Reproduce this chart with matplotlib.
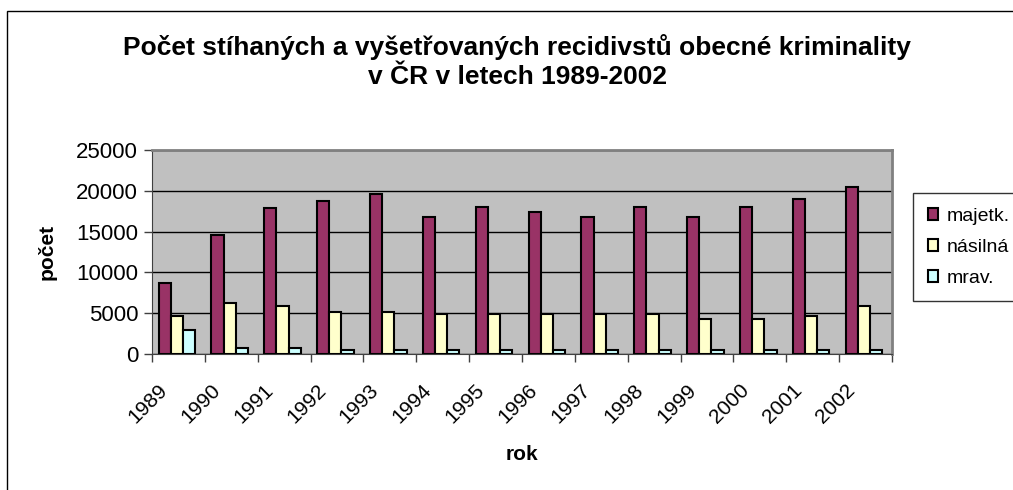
import matplotlib.pyplot as plt
import matplotlib.transforms as mtransforms
from matplotlib.patches import Rectangle
import numpy as np

plt.rcParams['font.family'] = ['Liberation Sans', 'DejaVu Sans']

roky = ['1989', '1990', '1991', '1992', '1993', '1994', '1995',
        '1996', '1997', '1998', '1999', '2000', '2001', '2002']
majetk = [8700, 14600, 17850, 18800, 19550, 16850, 18050,
          17350, 16850, 18050, 16850, 18050, 19050, 20500]
nasilna = [4600, 6300, 5850, 5100, 5100, 4850, 4850,
           4850, 4850, 4850, 4350, 4350, 4600, 5850]
mrav = [2900, 700, 700, 450, 450, 450, 450,
        450, 450, 450, 450, 450, 450, 450]

nazvy = ['majetk.', 'násilná', 'mrav.']
barvy = ['#993366', '#FFFFCC', '#CCFFFF']

fig = plt.figure(figsize=(10.13, 4.9), dpi=100)
ax = fig.add_axes([152 / 1013, 1 - 354 / 490, 740 / 1013, 204 / 490])
ax.set_facecolor('#C0C0C0')

# ramecek kolem celeho grafu
fig.patches.append(Rectangle((7 / 1013, -0.1), 1.2, 1 - 11 / 490 + 0.1,
                             transform=fig.transFigure, fill=False,
                             edgecolor='black', linewidth=1))

x = np.arange(len(roky))
w = 0.23
for k, (vals, c, n) in enumerate(zip([majetk, nasilna, mrav], barvy, nazvy)):
    ax.bar(x + (k - 1) * w - 0.03, vals, w, color=c, edgecolor='black',
           linewidth=1.5, label=n, zorder=3)

ax.set_xlim(-0.5, len(roky) - 0.5)
ax.set_ylim(0, 25000)
ax.set_yticks(range(0, 25001, 5000))
ax.yaxis.grid(True, color='black', linewidth=1, zorder=1)
ax.set_axisbelow(True)

# carky mezi kategoriemi, popisky roku natocene o 45 stupnu
ax.set_xticks(np.arange(len(roky) + 1) - 0.5)
ax.set_xticklabels([])
offset = mtransforms.ScaledTranslation(-14 / 100, -33 / 100, fig.dpi_scale_trans)
for xi, r in zip(x, roky):
    ax.text(xi, 0, r, transform=ax.get_xaxis_transform() + offset,
            rotation=45, rotation_mode='anchor', ha='right', va='center',
            fontsize=15)
ax.tick_params(axis='x', which='major', length=6, width=1, color='#404040')
ax.tick_params(axis='y', length=6, width=1, color='#404040', labelsize=16, pad=4)

for s in ['top', 'right']:
    ax.spines[s].set_color('#808080')
    ax.spines[s].set_linewidth(2)
ax.spines['left'].set_color('#404040')
ax.spines['bottom'].set_color('#404040')

ax.set_ylabel('počet', fontsize=15, fontweight='bold', labelpad=14)
ax.text(0.5, 0, 'rok', transform=ax.transAxes + mtransforms.ScaledTranslation(
    0, -101 / 100, fig.dpi_scale_trans), ha='center', va='center',
    fontsize=15, fontweight='bold')

fig.text(517 / 1013, 1 - 47 / 490,
         'Počet stíhaných a vyšetřovaných recidivstů obecné kriminality',
         ha='center', va='center', fontsize=19, fontweight='bold')
fig.text(517 / 1013, 1 - 77 / 490, 'v ČR v letech 1989-2002',
         ha='center', va='center', fontsize=19, fontweight='bold')

leg = fig.legend(loc='upper left', bbox_to_anchor=(913 / 1013, 1 - 193 / 490),
                 fontsize=14, frameon=True, fancybox=False, edgecolor='black',
                 handlelength=0.55, handleheight=0.55, handletextpad=0.45,
                 labelspacing=0.72, borderaxespad=0, borderpad=0.75)
leg.get_frame().set_linewidth(1)

fig.savefig('out.png', dpi=100)
